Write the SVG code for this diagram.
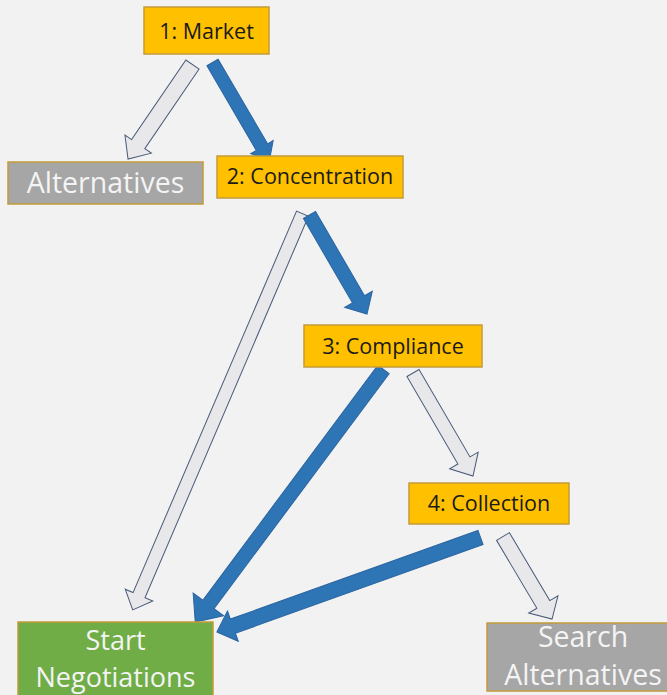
<svg xmlns="http://www.w3.org/2000/svg" width="667" height="695" viewBox="0 0 667 695">
<style>
.bg{fill:#f2f2f2}
.box{stroke:#c39b3a;stroke-width:1.5}
.y{fill:#ffc000}
.g{fill:#a6a6a6}
.gr{fill:#70ad47}
.lt{fill:#e8e7ea;stroke:#4a5a78;stroke-width:1}
.bl{fill:#2e75b6;stroke:#2a64a0;stroke-width:1}
.t{font-family:"Open Sans","Noto Sans","Liberation Sans",sans-serif;text-anchor:middle}
.ts{font-size:21.5px;fill:#1a1a1a}
.tb{font-size:28.5px;fill:#f4f4f4}
.tn{font-size:27px}
</style>
<rect class="bg" x="0" y="0" width="667" height="695"/>
<g id="connectors">
<path class="lt" transform="translate(192.5,64.5) rotate(124.3)" d="M0,-8 H96.4 V-16 L114.4,0 L96.4,16 V8 H0 Z"/>
<path class="bl" transform="translate(212.5,62.5) rotate(59.7)" d="M0,-6.5 H98 V-13 L113,0 L98,13 V6.5 H0 Z"/>
<path class="lt" transform="translate(302.5,213.7) rotate(113.2)" d="M0,-6.5 H415 V-15 L431,0 L415,15 V6.5 H0 Z"/>
<path class="bl" transform="translate(309.5,215) rotate(59.85)" d="M0,-7 H97.5 V-16 L114.5,0 L97.5,16 V7 H0 Z"/>
<path class="lt" transform="translate(413,373) rotate(59.78)" d="M0,-7 H101.2 V-16.5 L119.2,0 L101.2,16.5 V7 H0 Z"/>
<path class="bl" transform="translate(383.5,369.5) rotate(126.7)" d="M0,-7 H293 V-19 L315,0 L293,19 V7 H0 Z"/>
<path class="bl" transform="translate(480.5,537.5) rotate(160.3)" d="M0,-7.5 H263 V-16 L280,0 L263,16 V7.5 H0 Z"/>
<path class="lt" transform="translate(503,536.5) rotate(59.3)" d="M0,-7.5 H79 V-17 L96,0 L79,17 V7.5 H0 Z"/>
</g>
<g id="market">
<rect class="box y" x="144" y="7" width="125" height="47"/>
<text class="t ts" x="206.5" y="39">1: Market</text>
</g>
<g id="alternatives">
<rect class="box g" x="8" y="162" width="195" height="42"/>
<text class="t tb" x="105.5" y="193">Alternatives</text>
</g>
<g id="concentration">
<rect class="box y" x="217" y="156" width="186" height="42"/>
<text class="t ts" x="310" y="184">2: Concentration</text>
</g>
<g id="compliance">
<rect class="box y" x="304" y="325" width="178" height="42"/>
<text class="t ts" x="393" y="354">3: Compliance</text>
</g>
<g id="collection">
<rect class="box y" x="409" y="483" width="160" height="41"/>
<text class="t ts" x="489" y="511">4: Collection</text>
</g>
<g id="start-negotiations">
<rect class="box gr" x="18" y="622" width="195" height="80"/>
<text class="t tb tn" x="115.5" y="650">Start</text>
<text class="t tb tn" x="115.5" y="687">Negotiations</text>
</g>
<g id="search-alternatives">
<rect class="box g" x="487" y="623" width="192" height="68"/>
<text class="t tb" x="583" y="647">Search</text>
<text class="t tb" x="583" y="685">Alternatives</text>
</g>
</svg>
